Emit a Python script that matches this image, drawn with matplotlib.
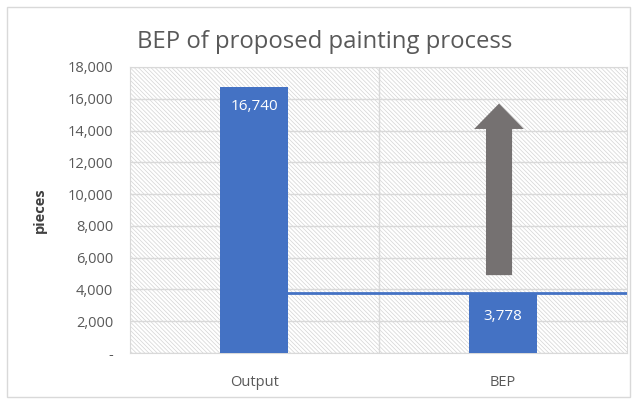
import matplotlib.pyplot as plt
from matplotlib.patches import Rectangle, FancyArrow

categories = ["Output", "BEP"]
values = [16740, 3778]
bep_line = 3778
arrow_from = 4900
arrow_to = 15700
yticks = [0, 2000, 4000, 6000, 8000, 10000, 12000, 14000, 16000, 18000]
ytick_labels = ["-", "2,000", "4,000", "6,000", "8,000", "10,000", "12,000",
                "14,000", "16,000", "18,000"]

plt.rcParams['font.family'] = ['Open Sans', 'DejaVu Sans']
plt.rcParams['hatch.color'] = '#d4d4d4'
plt.rcParams['hatch.linewidth'] = 0.5

fig = plt.figure(figsize=(6.36, 3.99), dpi=100)
ax = fig.add_axes([130 / 636, 1 - 353 / 399, 497 / 636, 286 / 399])

# outer chart border
fig.patches.append(Rectangle((7 / 636, 2 / 399), 623 / 636, 390 / 399,
                             transform=fig.transFigure, fill=False,
                             edgecolor='#d9d9d9', lw=1))

x = [0, 1]
ax.set_xlim(-0.5, 1.5)
ax.set_ylim(0, 18000)

# hatched plot area
ax.add_patch(Rectangle((-0.5, 0), 2, 18000, facecolor='white',
                       edgecolor='#d4d4d4', hatch='\\' * 8, lw=0, zorder=0))

for y in yticks:
    ax.axhline(y, color='#d9d9d9', lw=1, zorder=1)
ax.axvline(0.5, color='#d9d9d9', lw=1, zorder=1)

bars = ax.bar(x, values, width=0.275, color='#4472c4', zorder=3)
ax.plot([x[0] + 0.1375, 1.5], [bep_line, bep_line], color='#4472c4', lw=2, zorder=3)

labels = ["{:,}".format(v) for v in values]
ax.text(x[0], values[0] - 750, labels[0], color='white', ha='center', va='top', fontsize=11, zorder=4)
ax.text(x[1], values[1] - 1000, labels[1], color='white', ha='center', va='top', fontsize=11, zorder=4)

ax.add_patch(FancyArrow(0.985, arrow_from, 0, arrow_to - arrow_from, width=0.105,
                        head_width=0.2, head_length=1600, length_includes_head=True,
                        color='#757171', lw=0, zorder=4))

ax.set_xticks(x)
ax.set_xticklabels(categories)
ax.set_yticks(yticks)
ax.set_yticklabels(ytick_labels)
ax.tick_params(axis='both', length=0, labelsize=10.5, colors='#595959')
ax.tick_params(axis='x', pad=16)
ax.tick_params(axis='y', pad=12)
for s in ax.spines.values():
    s.set_color('#d9d9d9')

ax.set_ylabel("pieces", fontsize=10.5, fontweight='bold', color='#404040', labelpad=15)
fig.text(137 / 636, 1 - 42 / 399, "BEP of proposed painting process", fontsize=17.2,
         color='#595959', va='center', ha='left')

fig.savefig("out.png", dpi=100)
